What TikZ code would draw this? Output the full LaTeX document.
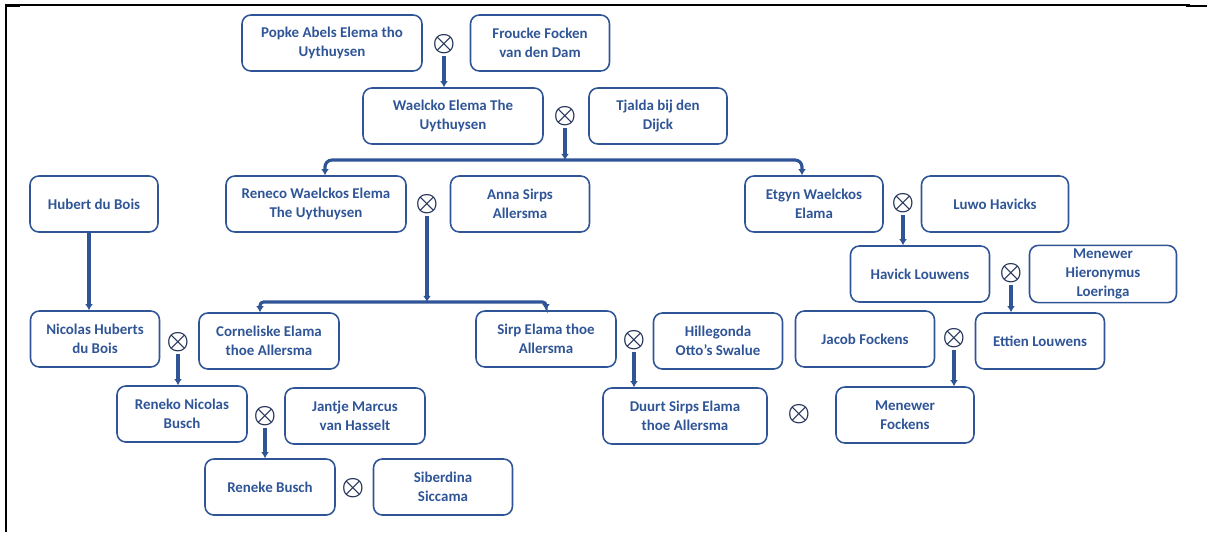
\documentclass[tikz,border=0pt]{standalone}
\usepackage{fontspec}
\setmainfont{Carlito}
\usetikzlibrary{arrows.meta}
\definecolor{famblue}{RGB}{47,85,151}
\definecolor{ringblue}{RGB}{32,48,86}

\begin{document}
\begin{tikzpicture}[x=0.02cm, y=-0.02cm,
	person/.style = {draw = famblue, line width = 0.9pt, rounded corners = 5pt,
		minimum height = 1.12cm, align = center, text = famblue, inner sep = 2pt,
		font = \bfseries\fontsize{8.5}{10.8}\selectfont},
	union/.style = {inner sep = 0pt, text = ringblue, font = \fontsize{14.5}{14.5}\selectfont\boldmath},
	link/.style = {draw = famblue, line width = 1.8pt, -{Latex[length = 3.5pt, width = 4.5pt]}}]
\useasboundingbox (0,0) rectangle (1207,532);
\draw [line width = 0.6pt] (5,5) -- (1190,5);
\draw [line width = 1.6pt] (5,6) -- (20,6) (1186,6) -- (1207,6);
\draw [line width = 1.6pt] (6,5) -- (6,532);

\node [person, minimum width = 3.6cm] (popke) at (332,43) {Popke Abels Elema tho\\Uythuysen};
\node [person, minimum width = 2.78cm] (froucke) at (540,43) {Froucke Focken\\van den Dam};
\node [person, minimum width = 3.6cm] (waelcko) at (453,116) {Waelcko Elema The\\Uythuysen};
\node [person, minimum width = 2.76cm] (tjalda) at (658,116) {Tjalda bij den\\Dijck};
\node [person, minimum width = 3.6cm] (reneco) at (316,204) {Reneco Waelckos Elema\\The Uythuysen};
\node [person, minimum width = 2.78cm] (anna) at (520,204) {Anna Sirps\\Allersma};
\node [person, minimum width = 2.76cm] (etgyn) at (814,204) {Etgyn Waelckos\\Elama};
\node [person, minimum width = 2.94cm] (luwo) at (995,204) {Luwo Havicks};
\node [person, minimum width = 2.56cm] (hubert) at (94,204) {Hubert du Bois};
\node [person, minimum width = 2.78cm] (havick) at (920,274) {Havick Louwens};
\node [person, minimum width = 2.94cm] (hieronymus) at (1103,274) {Menewer\\Hieronymus\\Loeringa};
\node [person, minimum width = 2.58cm] (nicolas) at (95,339) {Nicolas Huberts\\du Bois};
\node [person, minimum width = 2.8cm] (corneliske) at (269,341) {Corneliske Elama\\thoe Allersma};
\node [person, minimum width = 2.8cm] (sirp) at (546,339) {Sirp Elama thoe\\Allersma};
\node [person, minimum width = 2.58cm] (hillegonda) at (718,341) {Hillegonda\\Otto's Swalue};
\node [person, minimum width = 2.78cm] (jacob) at (865,339) {Jacob Fockens};
\node [person, minimum width = 2.58cm] (ettien) at (1040,341) {Ettien Louwens};
\node [person, minimum width = 2.6cm] (reneko) at (182,414) {Reneko Nicolas\\Busch};
\node [person, minimum width = 2.8cm] (jantje) at (355,416) {Jantje Marcus\\van Hasselt};
\node [person, minimum width = 3.28cm] (duurt) at (685,416) {Duurt Sirps Elama\\thoe Allersma};
\node [person, minimum width = 2.76cm] (mfockens) at (905,415) {Menewer\\Fockens};
\node [person, minimum width = 2.6cm] (reneke) at (270,487) {Reneke Busch};
\node [person, minimum width = 2.78cm] (siberdina) at (443,487) {Siberdina\\Siccama};

\node [union] (u1) at (444,44) {$\otimes$};
\node [union] (u2) at (565,116) {$\otimes$};
\node [union] (u3) at (427,204) {$\otimes$};
\node [union] (u4) at (903,203) {$\otimes$};
\node [union] (u5) at (1011,273) {$\otimes$};
\node [union] (u6) at (178,342) {$\otimes$};
\node [union] (u7) at (634,340) {$\otimes$};
\node [union] (u8) at (954,338) {$\otimes$};
\node [union] (u9) at (265,416) {$\otimes$};
\node [union] (u10) at (799,414) {$\otimes$};
\node [union] (u11) at (353,488) {$\otimes$};

\coordinate (fork1) at (u2 |- 0,160);
\coordinate (fork2) at (u3 |- 0,302);

\draw [link] ([yshift = -1pt]u1.south) -- (u1.south |- waelcko.north);
\draw [link] ([yshift = -1pt]u2.south) -- (fork1);
\draw [link, rounded corners = 4pt] (fork1) -| ([xshift = 0.18cm]reneco.north);
\draw [link, rounded corners = 4pt] (fork1) -| ([xshift = -0.24cm]etgyn.north);
\draw [link] ([yshift = -1pt]u3.south) -- (fork2);
\draw [link, rounded corners = 2pt] (fork2) -| ([xshift = -0.18cm]corneliske.north);
\draw [link, rounded corners = 2pt] (fork2) -| (sirp.north);
\draw [link] ([xshift = -0.1cm]hubert.south) -- ([xshift = -0.1cm]hubert.south |- nicolas.north);
\draw [link] ([yshift = -1pt]u4.south) -- (u4.south |- havick.north);
\draw [link] ([yshift = -1pt]u5.south) -- (u5.south |- ettien.north);
\draw [link] ([yshift = -1pt]u6.south) -- (u6.south |- reneko.north);
\draw [link] ([yshift = -1pt]u7.south) -- (u7.south |- duurt.north);
\draw [link] ([yshift = -1pt]u8.south) -- (u8.south |- mfockens.north);
\draw [link] ([yshift = -1pt]u9.south) -- (u9.south |- reneke.north);
\end{tikzpicture}
\end{document}
